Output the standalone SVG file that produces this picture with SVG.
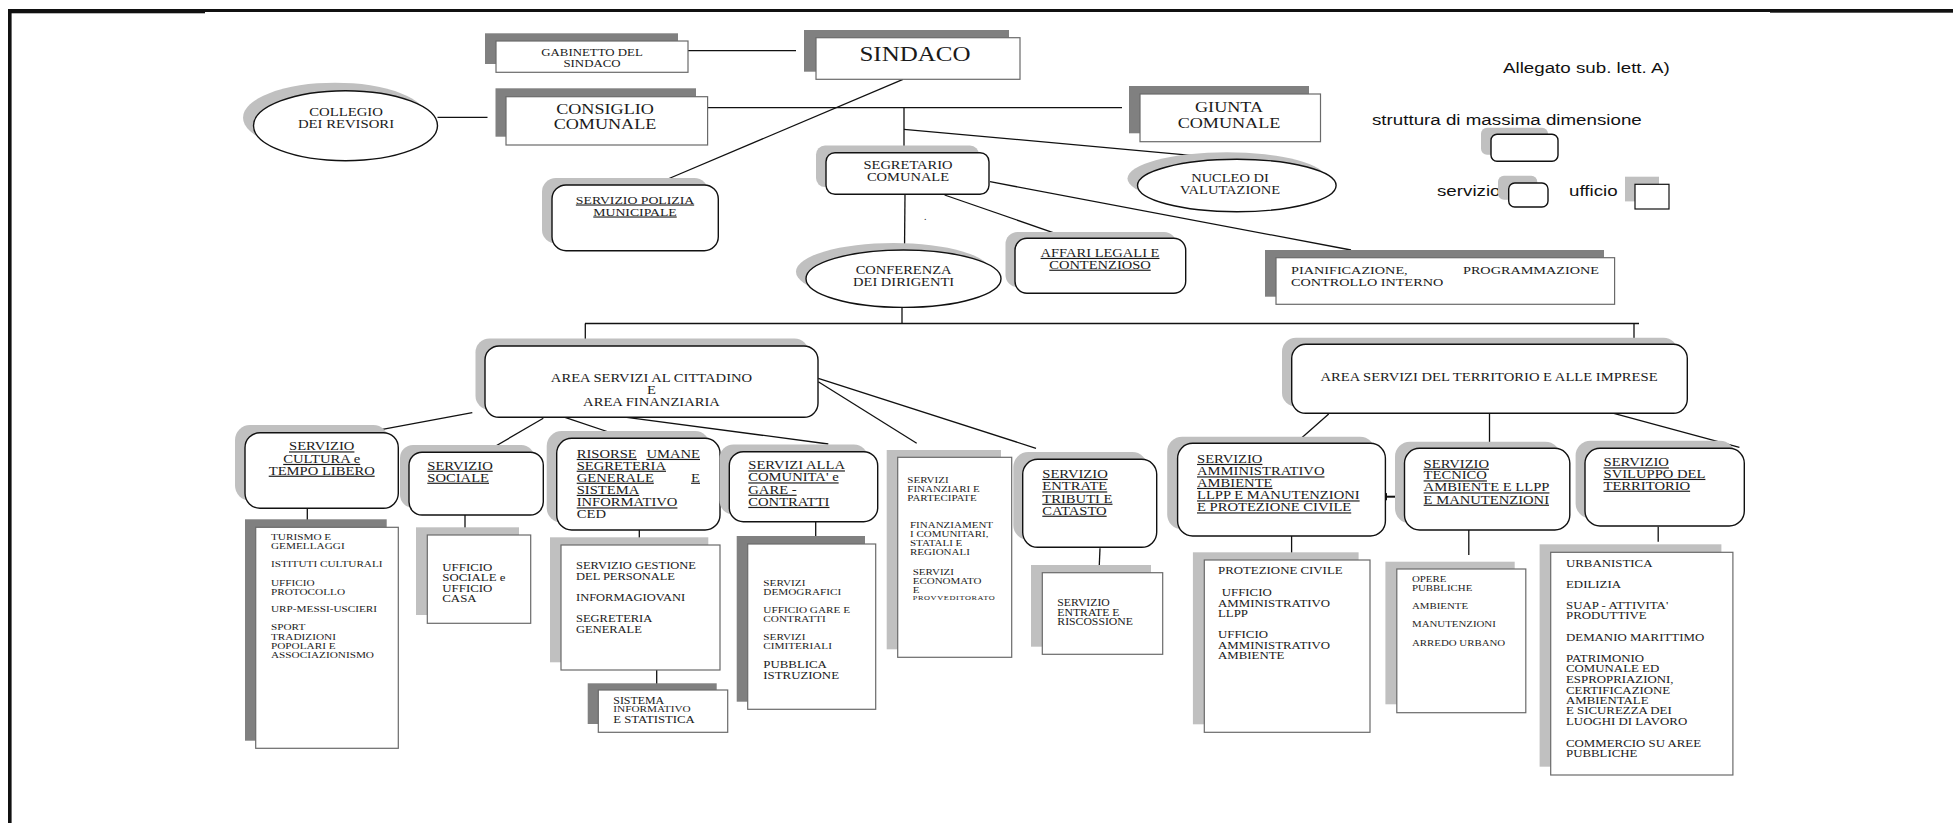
<svg xmlns="http://www.w3.org/2000/svg" width="1953" height="823" viewBox="0 0 1953 823">
<style>
.f{fill:#fff;stroke:#111;stroke-width:1.4}
.r{fill:#fff;stroke:#6a6a6a;stroke-width:1.2}
.sl{fill:#c0c0c0}
.sd{fill:#808080}
#connectors line{stroke:#111;stroke-width:1.3}
.t{font-family:"Liberation Serif","Times New Roman",serif;fill:#1a1a1a}
.u{text-decoration:underline}
.m{text-anchor:middle}
.e{text-anchor:end}
.s{font-family:"Liberation Sans",Arial,sans-serif;font-size:15px;fill:#111}
</style>
<defs>
<marker id="ah" viewBox="0 0 10 10" refX="9" refY="5" markerWidth="8" markerHeight="8" markerUnits="userSpaceOnUse" orient="auto-start-reverse"><path d="M0,0 L10,5 L0,10 z" fill="#111"/></marker>
</defs>
<rect width="1953" height="823" fill="#fff"/>
<g id="frame">
<rect x="8" y="9" width="197" height="4.3" fill="#111"/>
<rect x="205" y="9" width="1565" height="3" fill="#111"/>
<rect x="1770" y="9" width="183" height="3.7" fill="#111"/>
<rect x="8" y="9" width="3.6" height="814" fill="#111"/>
</g>
<g id="connectors">
<line x1="688" y1="50.7" x2="796" y2="50.7"/>
<line x1="437.5" y1="117.3" x2="487.5" y2="117.3"/>
<line x1="707.6" y1="107.7" x2="1122" y2="107.7"/>
<line x1="903" y1="79.3" x2="665.5" y2="180"/>
<line x1="904" y1="107.7" x2="904" y2="152.7"/>
<line x1="904" y1="129.3" x2="1234.8" y2="159.3"/>
<line x1="990" y1="181.7" x2="1351" y2="250"/>
<line x1="944.6" y1="195" x2="1069.6" y2="238.3"/>
<line x1="905" y1="194.3" x2="904.5" y2="250"/>
<line x1="902" y1="307.3" x2="902" y2="323.5"/>
<line x1="585" y1="323.5" x2="1639" y2="323.5"/>
<line x1="585.3" y1="323.5" x2="585.3" y2="346"/>
<line x1="1634" y1="323.5" x2="1634" y2="344.3"/>
<line x1="472.3" y1="412.7" x2="365" y2="432.7"/>
<line x1="543.3" y1="418.3" x2="477.3" y2="456.7"/>
<line x1="565" y1="417.3" x2="629.3" y2="439"/>
<line x1="626.7" y1="417.3" x2="828.3" y2="444"/>
<line x1="818.3" y1="381.7" x2="916.7" y2="443.3"/>
<line x1="818.3" y1="378.3" x2="1036" y2="448.3"/>
<line x1="1328.7" y1="414" x2="1291.6" y2="446.7"/>
<line x1="1489.5" y1="413.3" x2="1489.5" y2="453"/>
<line x1="1613.8" y1="413.3" x2="1739.4" y2="447.3"/>
<line x1="307.3" y1="508.3" x2="307.3" y2="520"/>
<line x1="465" y1="515" x2="465" y2="530.7"/>
<line x1="639.3" y1="530" x2="639.3" y2="538.3"/>
<line x1="656.7" y1="670" x2="656.7" y2="685"/>
<line x1="815.7" y1="521.7" x2="815.7" y2="536.7"/>
<line x1="1100" y1="548.3" x2="1099.3" y2="565"/>
<line x1="1291.6" y1="536" x2="1291.6" y2="555"/>
<line x1="1468.8" y1="530" x2="1468.8" y2="555"/>
<line x1="1658.2" y1="526.7" x2="1658.2" y2="541.7"/>
<line x1="1380" y1="496.7" x2="1404" y2="496.7" marker-start="url(#ah)" marker-end="url(#ah)" style="stroke-width:2"/>
</g>
<g id="gabinetto">
<rect class="sd" x="485" y="33.3" width="193" height="30.7"/>
<rect class="r" x="496" y="41" width="192" height="31.3"/>
<text class="t m" font-size="10.3" transform="translate(592 0) scale(1.25 1)"><tspan x="0" y="56.1">GABINETTO DEL</tspan><tspan x="0" y="66.7">SINDACO</tspan></text>
</g>
<g id="sindaco">
<rect class="sd" x="804" y="30" width="205" height="41.7"/>
<rect class="r" x="816" y="37.7" width="204" height="41.6"/>
<text class="t m" font-size="20" transform="translate(915 0) scale(1.25 1)" y="61">SINDACO</text>
</g>
<g id="collegio">
<ellipse class="sl" cx="335" cy="117.7" rx="92" ry="35"/>
<ellipse class="f" cx="345.5" cy="125.7" rx="92" ry="35"/>
<text class="t m" font-size="11.8" transform="translate(346 0) scale(1.25 1)"><tspan x="0" y="115.6">COLLEGIO</tspan><tspan x="0" y="127.9">DEI REVISORI</tspan></text>
</g>
<g id="consiglio">
<rect class="sd" x="495.5" y="88.3" width="200.5" height="48.4"/>
<rect class="r" x="506" y="96.7" width="201.6" height="48.3"/>
<text class="t m" font-size="14.5" transform="translate(605 0) scale(1.25 1)"><tspan x="0" y="114.3">CONSIGLIO</tspan><tspan x="0" y="129.3">COMUNALE</tspan></text>
</g>
<g id="giunta">
<rect class="sd" x="1129" y="86" width="180" height="47.3"/>
<rect class="r" x="1140" y="94" width="180.5" height="47.7"/>
<text class="t m" font-size="14.5" transform="translate(1229 0) scale(1.25 1)"><tspan x="0" y="112.3">GIUNTA</tspan><tspan x="0" y="127.7">COMUNALE</tspan></text>
</g>
<g id="polizia">
<rect class="sl" x="542" y="178" width="166.3" height="65.7" rx="14"/>
<rect class="f" x="552" y="185" width="166.3" height="65.7" rx="14"/>
<text class="t m u" font-size="11" transform="translate(635 0) scale(1.25 1)"><tspan x="0" y="203.6">SERVIZIO POLIZIA</tspan><tspan x="0" y="215.6">MUNICIPALE</tspan></text>
</g>
<g id="segretario">
<rect class="sl" x="816" y="145.5" width="163" height="41.6" rx="9"/>
<rect class="f" x="826" y="152.7" width="163" height="41.6" rx="9"/>
<text class="t m" font-size="11.6" transform="translate(908 0) scale(1.25 1)"><tspan x="0" y="169.5">SEGRETARIO</tspan><tspan x="0" y="181.5">COMUNALE</tspan></text>
<text class="t" font-size="10" x="924" y="220">.</text>
</g>
<g id="nucleo">
<ellipse class="sl" cx="1226.8" cy="178.5" rx="99.3" ry="26.2"/>
<ellipse class="f" cx="1236.8" cy="185.5" rx="99.3" ry="26.2"/>
<text class="t m" font-size="11.6" transform="translate(1230 0) scale(1.25 1)"><tspan x="0" y="182.5">NUCLEO DI</tspan><tspan x="0" y="194">VALUTAZIONE</tspan></text>
</g>
<g id="conferenza">
<ellipse class="sl" cx="893.5" cy="271.7" rx="97.5" ry="28.7"/>
<ellipse class="f" cx="903.5" cy="278.7" rx="97.5" ry="28.7"/>
<text class="t m" font-size="11.6" transform="translate(903.6 0) scale(1.25 1)"><tspan x="0" y="273.8">CONFERENZA</tspan><tspan x="0" y="285.8">DEI DIRIGENTI</tspan></text>
</g>
<g id="affari">
<rect class="sl" x="1005.5" y="232" width="170.7" height="55" rx="12"/>
<rect class="f" x="1015" y="238.3" width="170.7" height="55" rx="12"/>
<text class="t m u" font-size="11.6" transform="translate(1100 0) scale(1.25 1)"><tspan x="0" y="257">AFFARI LEGALI E</tspan><tspan x="0" y="268.8">CONTENZIOSO</tspan></text>
</g>
<g id="pianificazione">
<rect class="sd" x="1265" y="250" width="339" height="46.7"/>
<rect class="r" x="1276" y="257.7" width="338.6" height="46.6"/>
<text class="t" font-size="11.4" transform="translate(1291 0) scale(1.25 1)"><tspan x="0" y="274.5">PIANIFICAZIONE,</tspan><tspan x="0" y="286.5">CONTROLLO INTERNO</tspan></text>
<text class="t e" font-size="11.4" transform="translate(1599 0) scale(1.25 1)" y="274.5">PROGRAMMAZIONE</text>
</g>
<g id="legenda">
<text class="s" transform="translate(1503 0) scale(1.25 1)" y="72.7">Allegato sub. lett. A)</text>
<text class="s" transform="translate(1372 0) scale(1.25 1)" y="125">struttura di massima dimensione</text>
<rect class="sl" x="1481" y="127.7" width="67" height="27" rx="6"/>
<rect class="f" x="1491" y="134.3" width="67" height="27" rx="6"/>
<text class="s" transform="translate(1437 0) scale(1.25 1)" y="196">servizio</text>
<rect class="sl" x="1498" y="175.7" width="39.3" height="24" rx="6"/>
<rect class="f" x="1508.7" y="183" width="39.3" height="24" rx="6"/>
<text class="s" transform="translate(1569 0) scale(1.25 1)" y="196">ufficio</text>
<rect class="sl" x="1625" y="176.7" width="34" height="24.7"/>
<rect class="f" x="1635" y="184.3" width="34" height="24.7" style="stroke-width:1.2"/>
</g>
<g id="area-cittadino">
<rect class="sl" x="475.5" y="338.5" width="333" height="71.3" rx="14"/>
<rect class="f" x="485" y="346" width="333" height="71.3" rx="14"/>
<text class="t m" font-size="11.7" transform="translate(651.5 0) scale(1.25 1)"><tspan x="0" y="382">AREA SERVIZI AL CITTADINO</tspan><tspan x="0" y="393.8">E</tspan><tspan x="0" y="405.8">AREA FINANZIARIA</tspan></text>
</g>
<g id="area-territorio">
<rect class="sl" x="1282" y="337.7" width="395.6" height="69" rx="14"/>
<rect class="f" x="1291.7" y="344.3" width="395.6" height="69" rx="14"/>
<text class="t m" font-size="11.7" transform="translate(1489 0) scale(1.25 1)" y="381">AREA SERVIZI DEL TERRITORIO E ALLE IMPRESE</text>
</g>
<g id="cultura">
<rect class="sl" x="235" y="425" width="153.3" height="75.6" rx="15"/>
<rect class="f" x="245" y="432.7" width="153.3" height="75.6" rx="15"/>
<text class="t m u" font-size="11.7" transform="translate(321.7 0) scale(1.25 1)"><tspan x="0" y="450.5">SERVIZIO</tspan><tspan x="0" y="463">CULTURA e</tspan><tspan x="0" y="474.8">TEMPO LIBERO</tspan></text>
</g>
<g id="cultura-uffici">
<rect class="sd" x="245" y="519.3" width="141.7" height="221.4"/>
<rect class="r" x="255.7" y="527.3" width="142.6" height="221"/>
<text class="t" font-size="9" transform="translate(271 0) scale(1.25 1)"><tspan x="0" y="540.3">TURISMO E</tspan><tspan x="0" y="549">GEMELLAGGI</tspan><tspan x="0" y="567.3">ISTITUTI CULTURALI</tspan><tspan x="0" y="585.7">UFFICIO</tspan><tspan x="0" y="594.7">PROTOCOLLO</tspan><tspan x="0" y="612.3">URP-MESSI-USCIERI</tspan><tspan x="0" y="630.3">SPORT</tspan><tspan x="0" y="639.7">TRADIZIONI</tspan><tspan x="0" y="648.7">POPOLARI  E</tspan><tspan x="0" y="657.7">ASSOCIAZIONISMO</tspan></text>
</g>
<g id="sociale">
<rect class="sl" x="400" y="445" width="134.3" height="62.7" rx="13"/>
<rect class="f" x="409" y="452.3" width="134.3" height="62.7" rx="13"/>
<text class="t u" font-size="11.7" transform="translate(427.3 0) scale(1.25 1)"><tspan x="0" y="469.8">SERVIZIO</tspan><tspan x="0" y="481.8">SOCIALE</tspan></text>
</g>
<g id="sociale-uffici">
<rect class="sl" x="416" y="527.3" width="103" height="87.7"/>
<rect class="r" x="427.3" y="535" width="103.4" height="88.3"/>
<text class="t" font-size="10.3" transform="translate(442.3 0) scale(1.25 1)"><tspan x="0" y="570.7">UFFICIO</tspan><tspan x="0" y="581">SOCIALE e</tspan><tspan x="0" y="591.7">UFFICIO</tspan><tspan x="0" y="601.7">CASA</tspan></text>
</g>
<g id="risorse">
<rect class="sl" x="546.7" y="431" width="163.3" height="91.7" rx="15"/>
<rect class="f" x="556.7" y="438.3" width="163.3" height="91.7" rx="15"/>
<text class="t u" font-size="11.7" transform="translate(576.7 0) scale(1.25 1)"><tspan x="0" y="458">RISORSE</tspan><tspan x="0" y="469.8">SEGRETERIA</tspan><tspan x="0" y="481.8">GENERALE</tspan><tspan x="0" y="494">SISTEMA</tspan><tspan x="0" y="506.5">INFORMATIVO</tspan></text>
<text class="t e u" font-size="11.7" transform="translate(700 0) scale(1.25 1)"><tspan x="0" y="458">UMANE</tspan><tspan x="0" y="481.8">E</tspan></text>
<text class="t" font-size="11.7" transform="translate(576.7 0) scale(1.25 1)" y="518.5">CED</text>
</g>
<g id="risorse-uffici">
<rect class="sl" x="550" y="537.3" width="158.3" height="125"/>
<rect class="r" x="561" y="545" width="159" height="125"/>
<text class="t" font-size="10" transform="translate(576 0) scale(1.25 1)"><tspan x="0" y="569.3">SERVIZIO GESTIONE</tspan><tspan x="0" y="580">DEL PERSONALE</tspan><tspan x="0" y="601">INFORMAGIOVANI</tspan><tspan x="0" y="622.3">SEGRETERIA</tspan><tspan x="0" y="632.6">GENERALE</tspan></text>
</g>
<g id="sistema-informativo">
<rect class="sd" x="587.7" y="683.3" width="129" height="40.7"/>
<rect class="r" x="598.3" y="690" width="129.4" height="42.3"/>
<text class="t" font-size="9.5" transform="translate(613.3 0) scale(1.25 1)"><tspan x="0" y="703.8">SISTEMA</tspan><tspan x="0" y="712.4" font-size="9">INFORMATIVO</tspan><tspan x="0" y="723.3" font-size="10.2">E STATISTICA</tspan></text>
</g>
<g id="servizi-comunita">
<rect class="sl" x="719.5" y="444.5" width="148.4" height="70" rx="14"/>
<rect class="f" x="729.3" y="451.7" width="148.4" height="70" rx="14"/>
<text class="t u" font-size="11.7" transform="translate(748.3 0) scale(1.25 1)"><tspan x="0" y="469.5">SERVIZI ALLA</tspan><tspan x="0" y="481.5">COMUNITA' e</tspan><tspan x="0" y="493.8">GARE -</tspan><tspan x="0" y="506">CONTRATTI</tspan></text>
</g>
<g id="comunita-uffici">
<rect class="sd" x="736.7" y="536" width="128.3" height="165.7"/>
<rect class="r" x="747.7" y="544" width="128" height="165.3"/>
<text class="t" font-size="9" transform="translate(763.3 0) scale(1.25 1)"><tspan x="0" y="585.7">SERVIZI</tspan><tspan x="0" y="595">DEMOGRAFICI</tspan><tspan x="0" y="613">UFFICIO GARE E</tspan><tspan x="0" y="622.3">CONTRATTI</tspan><tspan x="0" y="639.7">SERVIZI</tspan><tspan x="0" y="649">CIMITERIALI</tspan><tspan x="0" y="668.4" font-size="10.3">PUBBLICA</tspan><tspan x="0" y="679.1" font-size="10.3">ISTRUZIONE</tspan></text>
</g>
<g id="servizi-finanziari">
<rect class="sl" x="886.7" y="450" width="114.3" height="199.3"/>
<rect class="r" x="897.7" y="457.3" width="114" height="200"/>
<text class="t" font-size="8.8" transform="translate(907.3 0) scale(1.25 1)"><tspan x="0" y="483">SERVIZI</tspan><tspan x="0" y="492">FINANZIARI E</tspan><tspan x="0" y="500.7">PARTECIPATE</tspan></text>
<text class="t" font-size="8.8" transform="translate(910 0) scale(1.25 1)"><tspan x="0" y="528">FINANZIAMENT</tspan><tspan x="0" y="537">I COMUNITARI,</tspan><tspan x="0" y="546.3">STATALI E</tspan><tspan x="0" y="555.3">REGIONALI</tspan></text>
<text class="t" font-size="8.8" transform="translate(912.7 0) scale(1.25 1)"><tspan x="0" y="574.7">SERVIZI</tspan><tspan x="0" y="584">ECONOMATO</tspan><tspan x="0" y="593">E</tspan><tspan x="0" y="600.5" font-size="6.6" letter-spacing="0.5">PROVVEDITORATO</tspan></text>
</g>
<g id="entrate">
<rect class="sl" x="1013.3" y="452" width="134" height="88" rx="15"/>
<rect class="f" x="1022.7" y="459.3" width="134" height="88" rx="15"/>
<text class="t u" font-size="11.7" transform="translate(1042.3 0) scale(1.25 1)"><tspan x="0" y="478">SERVIZIO</tspan><tspan x="0" y="490.5">ENTRATE</tspan><tspan x="0" y="502.8">TRIBUTI  E</tspan><tspan x="0" y="514.8">CATASTO</tspan></text>
</g>
<g id="entrate-uffici">
<rect class="sl" x="1031" y="565" width="120" height="81.7"/>
<rect class="r" x="1042.3" y="572.7" width="120.4" height="81.6"/>
<text class="t" font-size="9.4" transform="translate(1057.3 0) scale(1.25 1)"><tspan x="0" y="605.8">SERVIZIO</tspan><tspan x="0" y="615.8">ENTRATE  E</tspan><tspan x="0" y="625.4">RISCOSSIONE</tspan></text>
</g>
<g id="amministrativo">
<rect class="sl" x="1167.2" y="436.7" width="207.8" height="92.7" rx="15"/>
<rect class="f" x="1177.6" y="443.3" width="207.8" height="92.7" rx="15"/>
<text class="t u" font-size="11.7" transform="translate(1197 0) scale(1.25 1)"><tspan x="0" y="463">SERVIZIO</tspan><tspan x="0" y="475.5">AMMINISTRATIVO</tspan><tspan x="0" y="487">AMBIENTE</tspan><tspan x="0" y="499.5">LLPP E MANUTENZIONI</tspan><tspan x="0" y="511.5">E PROTEZIONE CIVILE</tspan></text>
</g>
<g id="amministrativo-uffici">
<rect class="sl" x="1192.9" y="552.3" width="165.7" height="172"/>
<rect class="r" x="1204.3" y="560" width="165.7" height="172.3"/>
<text class="t" font-size="10.3" transform="translate(1218 0) scale(1.25 1)"><tspan x="0" y="574.1">PROTEZIONE CIVILE</tspan><tspan x="3" y="596.1">UFFICIO</tspan><tspan x="0" y="606.7">AMMINISTRATIVO</tspan><tspan x="0" y="617.4">LLPP</tspan><tspan x="0" y="638.1">UFFICIO</tspan><tspan x="0" y="648.7">AMMINISTRATIVO</tspan><tspan x="0" y="659.4">AMBIENTE</tspan></text>
</g>
<g id="tecnico">
<rect class="sl" x="1395" y="441.7" width="165.3" height="81.7" rx="15"/>
<rect class="f" x="1404.5" y="448.3" width="165.3" height="81.7" rx="15"/>
<text class="t u" font-size="11.7" transform="translate(1423.6 0) scale(1.25 1)"><tspan x="0" y="467.8">SERVIZIO</tspan><tspan x="0" y="479.5">TECNICO</tspan><tspan x="0" y="491.5">AMBIENTE E LLPP</tspan><tspan x="0" y="503.8">E MANUTENZIONI</tspan></text>
</g>
<g id="tecnico-uffici">
<rect class="sl" x="1385.4" y="561.7" width="129.3" height="142.6"/>
<rect class="r" x="1396.8" y="569" width="129" height="143.7"/>
<text class="t" font-size="8.7" transform="translate(1412 0) scale(1.25 1)"><tspan x="0" y="581.9">OPERE</tspan><tspan x="0" y="590.6">PUBBLICHE</tspan><tspan x="0" y="608.9">AMBIENTE</tspan><tspan x="0" y="627.2">MANUTENZIONI</tspan><tspan x="0" y="645.6">ARREDO URBANO</tspan></text>
</g>
<g id="sviluppo">
<rect class="sl" x="1575.6" y="440.7" width="159.3" height="77.7" rx="15"/>
<rect class="f" x="1585" y="448.3" width="159.3" height="77.7" rx="15"/>
<text class="t u" font-size="11.7" transform="translate(1603.5 0) scale(1.25 1)"><tspan x="0" y="466.5">SERVIZIO</tspan><tspan x="0" y="478">SVILUPPO DEL</tspan><tspan x="0" y="489.8">TERRITORIO</tspan></text>
</g>
<g id="sviluppo-uffici">
<rect class="sl" x="1539.6" y="544.3" width="181.8" height="222.4"/>
<rect class="r" x="1550.7" y="552.3" width="182.2" height="222.7"/>
<text class="t" font-size="10.3" transform="translate(1566 0) scale(1.25 1)"><tspan x="0" y="567.1">URBANISTICA</tspan><tspan x="0" y="588.4">EDILIZIA</tspan><tspan x="0" y="609.1">SUAP - ATTIVITA'</tspan><tspan x="0" y="619.1">PRODUTTIVE</tspan><tspan x="0" y="640.7">DEMANIO MARITTIMO</tspan><tspan x="0" y="661.7">PATRIMONIO</tspan><tspan x="0" y="672.4">COMUNALE ED</tspan><tspan x="0" y="683.1">ESPROPRIAZIONI,</tspan><tspan x="0" y="693.7">CERTIFICAZIONE</tspan><tspan x="0" y="703.7">AMBIENTALE</tspan><tspan x="0" y="714.4">E SICUREZZA DEI</tspan><tspan x="0" y="725.1">LUOGHI DI LAVORO</tspan><tspan x="0" y="746.7">COMMERCIO SU AREE</tspan><tspan x="0" y="756.7">PUBBLICHE</tspan></text>
</g>
</svg>
